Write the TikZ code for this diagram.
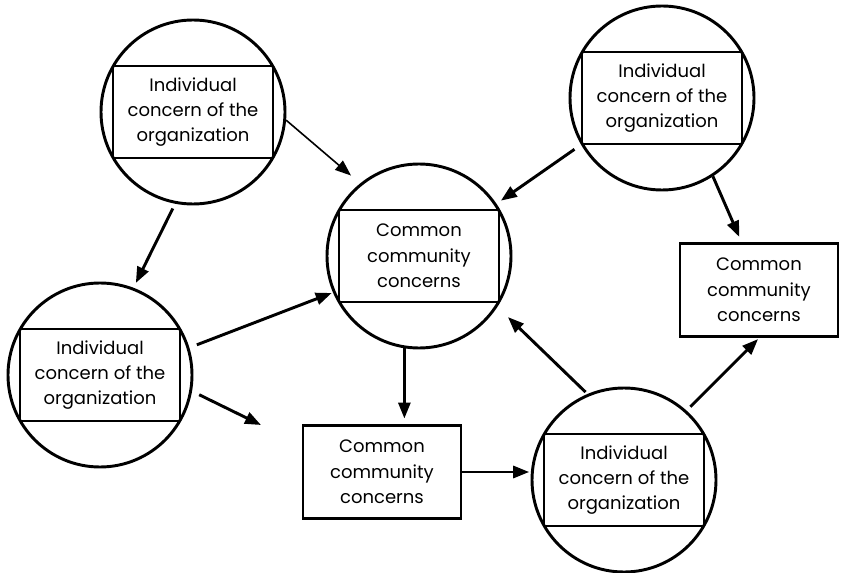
\documentclass[tikz,border=0pt]{standalone}
\usepackage{fontspec}
\setmainfont{Poppins}
\usetikzlibrary{arrows.meta, calc}

\begin{document}
\begin{tikzpicture}[x=0.75pt, y=-0.75pt]
  \tikzstyle{org} = [circle, draw, line width=2.2pt, minimum size=138pt, inner sep=0pt]
  \tikzstyle{inbox} = [rectangle, draw, line width=2.2pt, minimum width=120pt, minimum height=69pt, align=center, font=\fontsize{13.5}{19}\selectfont]
  \tikzstyle{block} = [rectangle, draw, line width=2.2pt, minimum width=118.5pt, minimum height=70pt, align=center, font=\fontsize{13.5}{19}\selectfont]
  \tikzstyle{arrow} = [line width=2.2pt, -{Triangle[length=12pt,width=9pt]}]

  \useasboundingbox (0,0) rectangle (841,573);

  % individual concerns (circle with box)
  \node[org] (tl) at (193,112) {};
  \node[inbox] (tlbox) at (tl) {Individual\\concern of the\\organization};
  \node[org] (tr) at (662,98) {};
  \node[inbox] (trbox) at (tr) {Individual\\concern of the\\organization};
  \node[org] (lc) at (100,375) {};
  \node[inbox] (lcbox) at (lc) {Individual\\concern of the\\organization};
  \node[org] (br) at (624,480) {};
  \node[inbox] (brbox) at (br) {Individual\\concern of the\\organization};

  % common concerns
  \node[org] (cc) at (419,256) {};
  \node[inbox] (ccbox) at (cc) {Common\\community\\concerns};
  \node[block] (rb) at (759,290) {Common\\community\\concerns};
  \node[block] (bb) at (382,472) {Common\\community\\concerns};

  \coordinate (free) at (261,425);

  \draw[arrow, line width=1.2pt, shorten >=9pt] (tl.-5) -- (cc.129);
  \draw[arrow, shorten <=4pt, shorten >=4pt] (tl.-101) -- (lc.69);
  \draw[arrow, shorten <=6pt, shorten >=1pt] (lc.17) -- (cc.203);
  \draw[arrow, shorten <=6pt] (lc.-10) -- (free);
  \draw[arrow, shorten >=4pt] (cc.-99) -- (cc.-99 |- bb.north);
  \draw[arrow, shorten >=1pt] (bb.east) -- (bb.east -| br.west);
  \draw[arrow, shorten <=2pt, shorten >=11pt] (br.113) -- (cc.-33);
  \draw[arrow, shorten <=4pt, shorten >=1pt] (br.48) -- (rb.south);
  \draw[arrow, shorten <=6pt, shorten >=4pt] (tr.210) -- (cc.34);
  \draw[arrow, shorten >=4pt] (tr.-57) -- (rb.110);
\end{tikzpicture}
\end{document}
